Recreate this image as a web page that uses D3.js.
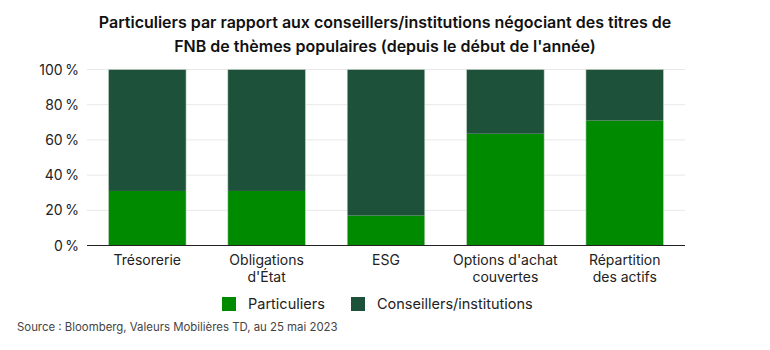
<!DOCTYPE html>
<html><head><meta charset="utf-8">
<script src="https://cdn.jsdelivr.net/npm/d3@7"></script>
<style>body{margin:0;background:#fff}svg{display:block}</style>
</head><body><svg id="c" width="770" height="350"></svg>
<script>
const categories = [["Trésorerie"],["Obligations","d'État"],["ESG"],["Options d'achat","couvertes"],["Répartition","des actifs"]];
const seriesNames = ["Particuliers","Conseillers/institutions"];
const particuliers = [31, 31, 17, 63.5, 71];
const conseillers = [69, 69, 83, 36.5, 29];
const yTicks = [0,20,40,60,80,100];
const titleLines = ["Particuliers par rapport aux conseillers/institutions négociant des titres de","FNB de thèmes populaires (depuis le début de l'année)"];
const sourceText = "Source : Bloomberg, Valeurs Mobilières TD, au 25 mai 2023";
const colors = ["#008a00","#1d5139"];
const FONT = "Inter, 'Open Sans', sans-serif";

const svg = d3.select("#c");
const m = {l:87, r:685, t:69.5, b:245.5};
const keys = categories.map(c=>c.join(" "));
const x = d3.scaleBand().domain(keys).range([m.l,m.r]).paddingInner(0.35).paddingOuter(0.18);
const y = d3.scaleLinear().domain([0,100]).range([m.b,m.t]);

// title
const t = svg.append("text").attr("text-anchor","middle").attr("font-family",FONT).attr("font-weight",600).attr("font-size",16).attr("fill","#111");
titleLines.forEach((l,i)=>t.append("tspan").attr("x",385).attr("y",28+i*23.5).text(l));

// grid
svg.append("g").selectAll("line").data(yTicks.filter(d=>d>0)).join("line")
  .attr("x1",m.l).attr("x2",m.r).attr("y1",d=>y(d)).attr("y2",d=>y(d)).attr("stroke","#e8e8e8").attr("stroke-width",1);

// y labels
svg.append("g").selectAll("text").data(yTicks).join("text")
  .attr("x",79).attr("y",d=>y(d)+5).attr("text-anchor","end").attr("font-family",FONT).attr("font-size",14).attr("fill","#222")
  .text(d=>d+"\u2009%");

// bars
const stackData = keys.map((k,i)=>({k, p:particuliers[i], c:conseillers[i]}));
const stack = d3.stack().keys(["p","c"])(stackData);
svg.append("g").selectAll("g").data(stack).join("g").attr("fill",(d,i)=>colors[i])
  .selectAll("rect").data(d=>d).join("rect")
  .attr("x",d=>x(d.data.k)).attr("width",x.bandwidth())
  .attr("y",d=>y(d[1])).attr("height",d=>y(d[0])-y(d[1]));
// light bar outline
svg.append("g").selectAll("rect").data(stackData).join("rect")
  .attr("x",d=>x(d.k)).attr("width",x.bandwidth())
  .attr("y",y(100)).attr("height",y(0)-y(100))
  .attr("fill","none").attr("stroke","#c9d6c9").attr("stroke-width",0.6);

// axis line
svg.append("line").attr("x1",m.l).attr("x2",m.r).attr("y1",m.b).attr("y2",m.b).attr("stroke","#222").attr("stroke-width",1.2);

// x labels
const xl = svg.append("g").selectAll("text").data(categories).join("text")
  .attr("text-anchor","middle").attr("font-family",FONT).attr("font-size",14).attr("fill","#222");
xl.each(function(c,i){
  const sel=d3.select(this);
  c.forEach((l,j)=>sel.append("tspan").attr("x",x(keys[i])+x.bandwidth()/2).attr("y",265+j*17).text(l));
});

// legend
const leg = svg.append("g").attr("font-family",FONT).attr("font-size",14.5).attr("fill","#222");
const lx=[222,351];
seriesNames.forEach((s,i)=>{
  leg.append("rect").attr("x",lx[i]).attr("y",297).attr("width",14).attr("height",14).attr("fill",colors[i]);
  leg.append("text").attr("x",lx[i]+26).attr("y",309).text(s);
});

// source
svg.append("text").attr("x",17).attr("y",331).attr("font-family",FONT).attr("font-size",11.4).attr("fill","#444").text(sourceText);
</script></body></html>
